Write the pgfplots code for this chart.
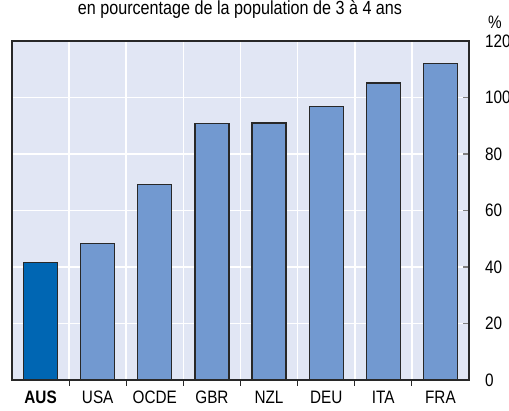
\documentclass[border=0pt]{standalone}
\usepackage{pgfplots}
\pgfplotsset{compat=1.18}
\usepackage{fontspec}
\setmainfont{Liberation Sans}[FakeStretch=0.85]
\definecolor{bgblue}{RGB}{225,230,244}
\definecolor{barblue}{RGB}{114,153,208}
\definecolor{ausblue}{RGB}{0,102,179}
\definecolor{edge}{RGB}{40,40,40}
\begin{document}
\begin{tikzpicture}[x=0.5pt,y=0.5pt]
\useasboundingbox (-12,-31) rectangle (497,380);
\begin{axis}[
  at={(0,0)}, anchor=south west,
  width=228.5pt, height=169.5pt, scale only axis,
  xmin=-0.5, xmax=7.5, ymin=0, ymax=120,
  axis background/.style={fill=bgblue},
  axis line style={edge, line width=0.9pt},
  xtick={0,...,7},
  xtick pos=bottom,
  xticklabels={\textbf{AUS},USA,OCDE,GBR,NZL,DEU,ITA,FRA},
  x tick label style={font=\fontsize{9pt}{10pt}\selectfont, yshift=1pt},
  major x tick style={draw=none},
  minor xtick={0.5,1.5,...,6.5},
  minor x tick style={edge, line width=0.6pt},
  minor tick length=3pt,
  minor x grid style={white, line width=0.8pt},
  xminorgrids,
  ytick={0,20,...,120},
  ytick pos=right, yticklabel pos=right,
  y tick label style={font=\fontsize{9pt}{10pt}\selectfont, xshift=4.5pt},
  /pgf/number format/assume math mode=true,
  major y tick style={gray, line width=0.6pt},
  major tick length=3pt,
  ymajorgrids,
  major y grid style={white, line width=0.8pt},
  tick align=inside,
  ybar, bar width=17pt, bar shift=0pt,
  clip=false,
]
\addplot[fill=ausblue, draw=edge, line width=0.6pt] coordinates {(0,41.5)};
\addplot[fill=barblue, draw=edge, line width=0.6pt] coordinates {
  (1,48.2) (2,69.1) (3,90.7) (4,91.0) (5,96.7) (6,105.1) (7,112.0)};
\end{axis}
\node[font=\fontsize{9.5pt}{10pt}\selectfont] at (228,371) {en pourcentage de la population de 3 à 4 ans};
\node[font=\fontsize{9pt}{10pt}\selectfont] at (483,358) {\%};
\end{tikzpicture}
\end{document}
